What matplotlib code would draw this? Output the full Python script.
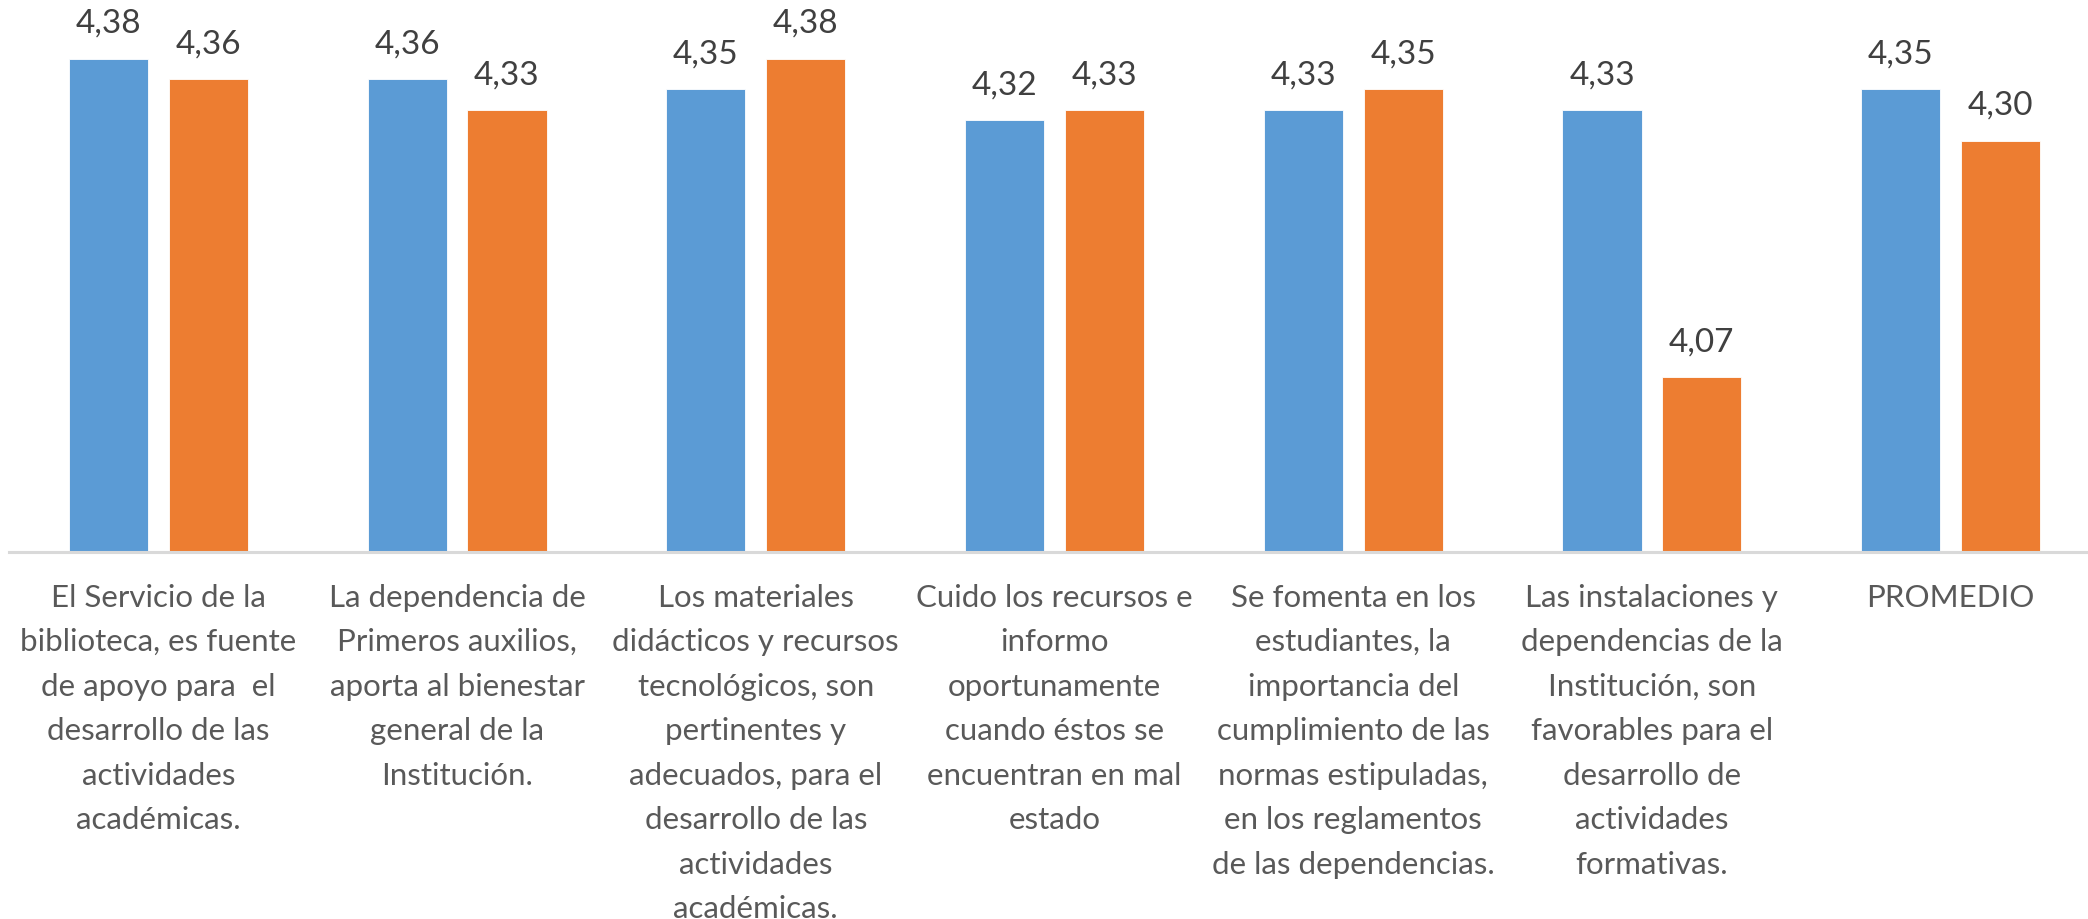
import matplotlib
matplotlib.use('Agg')
import matplotlib.pyplot as plt
import numpy as np

categories = [
    'El Servicio de la\nbiblioteca, es fuente\nde apoyo para  el\ndesarrollo de las\nactividades\nacadémicas.',
    'La dependencia de\nPrimeros auxilios,\naporta al bienestar\ngeneral de la\nInstitución.',
    'Los materiales\ndidácticos y recursos\ntecnológicos, son\npertinentes y\nadecuados, para el\ndesarrollo de las\nactividades\nacadémicas.',
    'Cuido los recursos e\ninformo\noportunamente\ncuando éstos se\nencuentran en mal\nestado',
    'Se fomenta en los\nestudiantes, la\nimportancia del\ncumplimiento de las\nnormas estipuladas,\nen los reglamentos\nde las dependencias.',
    'Las instalaciones y\ndependencias de la\nInstitución, son\nfavorables para el\ndesarrollo de\nactividades\nformativas.',
    'PROMEDIO',
]
serie_1 = [4.38, 4.36, 4.35, 4.32, 4.33, 4.33, 4.35]
serie_2 = [4.36, 4.33, 4.38, 4.33, 4.35, 4.07, 4.30]

blue = '#5B9BD5'
orange = '#ED7D31'

plt.rcParams['font.family'] = ['Lato', 'DejaVu Sans']

fig = plt.figure(figsize=(20.88, 9.2), dpi=100)
ax = fig.add_axes([9 / 2088, 1 - 553 / 920, (2100 - 9) / 2088, 553 / 920])

x = np.arange(len(categories))
w = 0.265
off = 0.167
b1 = ax.bar(x - off, serie_1, w, color=blue, edgecolor='white', linewidth=0.6, zorder=2)
b2 = ax.bar(x + off, serie_2, w, color=orange, edgecolor='white', linewidth=0.6, zorder=2)

for bars, vals in ((b1, serie_1), (b2, serie_2)):
    for rect, v in zip(bars, vals):
        ax.annotate('{:.2f}'.format(v).replace('.', ','),
                    (rect.get_x() + rect.get_width() / 2, v),
                    xytext=(0, 15), textcoords='offset points',
                    ha='center', va='bottom', fontsize=24, color='#404040')

ax.set_xlim(-0.5, 6.5)
ax.set_ylim(3.9, 4.438)
ax.set_yticks([])
ax.set_xticks(x)
ax.set_xticklabels(categories, fontsize=22.5, color='#595959', linespacing=1.72)
ax.tick_params(axis='x', length=0, pad=22)
for s in ['top', 'right', 'left']:
    ax.spines[s].set_visible(False)
ax.spines['bottom'].set_color('#D9D9D9')
ax.spines['bottom'].set_linewidth(2.2)

fig.savefig('out.png', dpi=100)
